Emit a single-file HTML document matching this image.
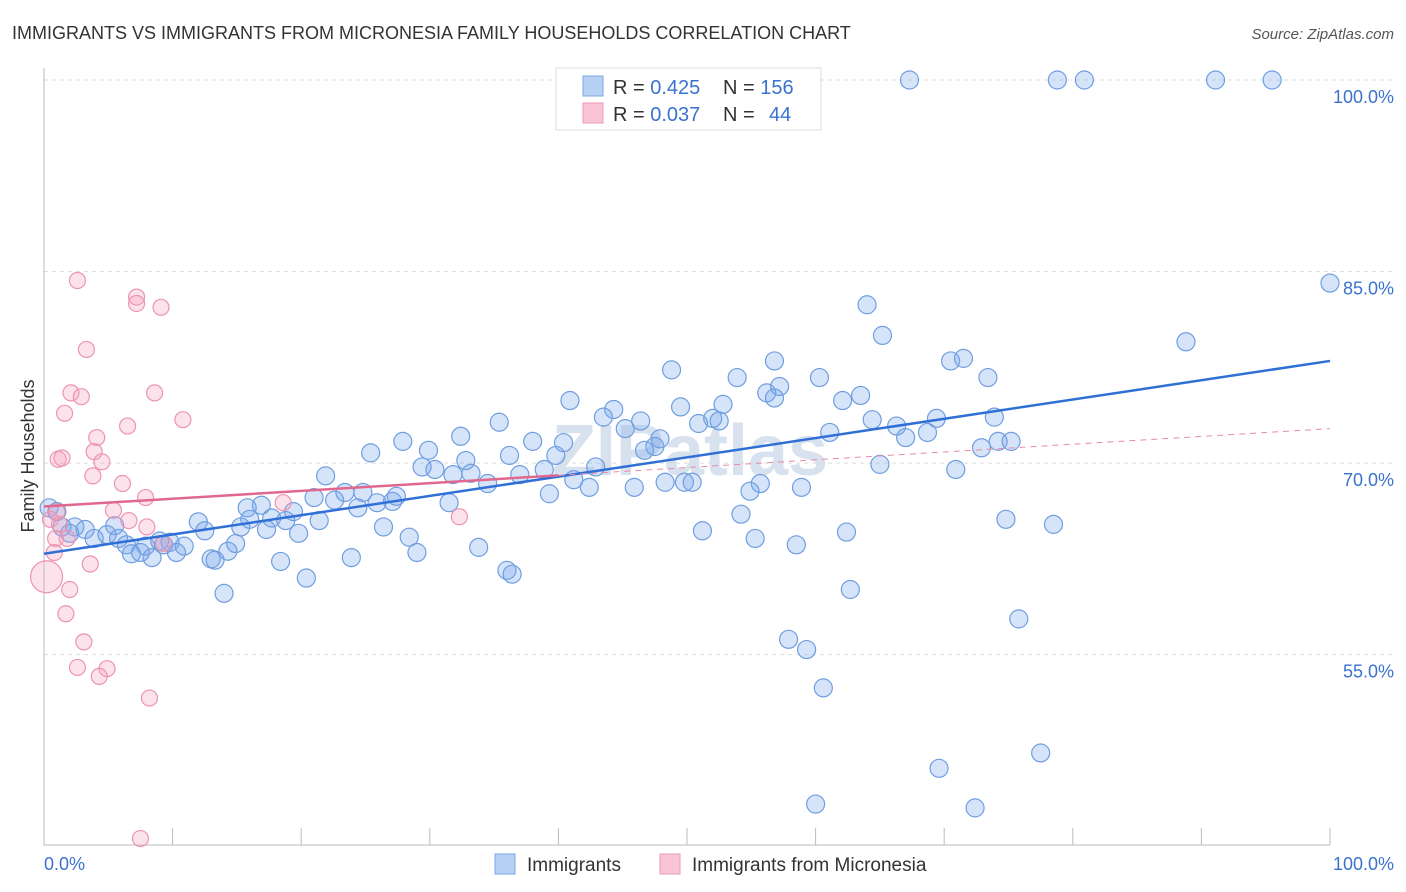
<!DOCTYPE html>
<html><head><meta charset="utf-8"><style>
body{margin:0;background:#fff;font-family:"Liberation Sans",sans-serif;}
#wrap{position:relative;width:1406px;height:892px;overflow:hidden;}
</style></head><body>
<div id="wrap">
<svg id="svg" width="1406" height="892" xmlns="http://www.w3.org/2000/svg">
<text x="12" y="39" font-size="18" fill="#333">IMMIGRANTS VS IMMIGRANTS FROM MICRONESIA FAMILY HOUSEHOLDS CORRELATION CHART</text>
<text x="1394" y="39" font-size="15" fill="#555" font-style="italic" text-anchor="end">Source: ZipAtlas.com</text>
<text x="690" y="475" font-size="72" fill="#d8e2ee" text-anchor="middle" font-weight="bold">ZIPatlas</text>
<text transform="translate(34,456) rotate(-90)" font-size="18" fill="#333" text-anchor="middle">Family Households</text>
<g id="grid"></g>
<g id="pts"></g>
<g id="trend"></g>
<g>
<rect x="556" y="68" width="265" height="62" fill="#fff" stroke="#ddd"/>
<rect x="583" y="76" width="20" height="20" fill="#b8d0f4" stroke="#7aa6e6"/>
<rect x="583" y="103" width="20" height="20" fill="#f9c4d4" stroke="#ec9ab6"/>
<text x="613" y="94" font-size="20" fill="#333">R = <tspan fill="#3a72d0">0.425</tspan><tspan x="723">N = </tspan><tspan fill="#3a72d0">156</tspan></text>
<text x="613" y="121" font-size="20" fill="#333">R = <tspan fill="#3a72d0">0.037</tspan><tspan x="723">N = </tspan><tspan fill="#3a72d0" x="769">44</tspan></text>
</g>
<g>
<rect x="495" y="854" width="20" height="20" fill="#b8d0f4" stroke="#7aa6e6"/>
<text x="527" y="871" font-size="19" fill="#333">Immigrants</text>
<rect x="660" y="854" width="20" height="20" fill="#f9c4d4" stroke="#ec9ab6"/>
<text x="692" y="871" font-size="19" fill="#333">Immigrants from Micronesia</text>
</g>
<text x="44" y="870" font-size="18" fill="#3a72d0">0.0%</text>
<text x="1394" y="870" font-size="18" fill="#3a72d0" text-anchor="end">100.0%</text>
</svg>
</div>
<script>
const yTicks=[100,85,70,55];
const yTickLabels=["100.0%","85.0%","70.0%","55.0%"];
const blueX=[67.3,78.8,80.9,91.1,95.5,100,64.0,65.2,88.8,56.8,70.5,71.5,48.8,53.9,60.3,73.4,57.2,56.2,56.8,63.5,62.1,40.9,44.3,43.5,52.8,49.5,46.4,35.4,52.0,50.9,52.5,64.4,69.4,73.9,45.2,66.3,67.0,61.1,68.7,27.9,32.4,38.0,40.4,47.9,72.9,74.2,75.2,25.4,29.9,32.8,36.2,39.8,46.7,47.5,29.4,30.4,31.8,33.2,34.5,37.0,38.9,42.9,65.0,70.9,21.9,41.2,42.4,45.9,48.3,49.8,50.4,55.7,54.9,58.9,39.3,31.5,16.9,21.0,22.6,23.4,24.8,25.9,27.1,27.4,24.4,19.4,15.8,16.0,17.7,18.8,21.4,54.2,74.8,78.5,12.0,15.3,17.3,19.8,26.4,28.4,51.2,62.4,0.4,1.0,1.4,2.4,5.5,12.5,3.9,4.9,5.8,6.4,7.5,7.9,9.0,9.8,10.9,9.3,14.9,14.3,55.3,58.5,6.8,8.4,10.3,13.0,13.3,29.0,33.8,18.4,23.9,36.0,36.4,20.4,14.0,62.7,75.8,57.9,59.3,60.6,77.5,69.6,60.0,72.4,3.2,2.0];
const blueY=[100,100,100,100,100,84.1,82.4,80.0,79.5,78.0,78.0,78.2,77.3,76.7,76.7,76.7,76.0,75.5,75.1,75.3,74.9,74.9,74.2,73.6,74.6,74.4,73.3,73.2,73.5,73.1,73.3,73.4,73.5,73.6,72.7,72.9,72.0,72.4,72.4,71.7,72.1,71.7,71.6,71.9,71.2,71.7,71.7,70.8,71.0,70.2,70.6,70.6,71.0,71.3,69.7,69.5,69.1,69.2,68.4,69.1,69.5,69.7,69.9,69.5,69.0,68.7,68.1,68.1,68.5,68.5,68.5,68.4,67.8,68.1,67.6,66.9,66.7,67.3,67.1,67.7,67.7,66.9,67.0,67.4,66.5,66.2,66.5,65.6,65.7,65.5,65.5,66.0,65.6,65.2,65.4,65.0,64.8,64.5,65.0,64.2,64.7,64.6,66.5,66.2,65.0,65.0,65.1,64.7,64.1,64.4,64.1,63.6,63.0,63.5,63.9,63.8,63.5,63.6,63.7,63.1,64.1,63.6,62.9,62.6,63.0,62.5,62.4,63.0,63.4,62.3,62.6,61.6,61.3,61.0,59.8,60.1,57.8,56.2,55.4,52.4,47.3,46.1,43.3,43.0,64.8,64.5];
const pinkX=[2.6,7.2,7.2,9.1,3.3,2.1,2.9,8.6,1.6,10.8,6.5,4.1,3.9,1.1,1.4,4.5,3.8,6.1,7.9,18.6,1.0,5.4,6.6,0.5,1.2,8.0,0.9,1.8,32.3,9.3,0.8,3.6,0.2,2.0,1.7,3.1,2.6,4.9,4.3,8.2,7.5];
const pinkY=[84.3,83.0,82.5,82.2,78.9,75.5,75.2,75.5,73.9,73.4,72.9,72.0,70.9,70.3,70.4,70.1,69.0,68.4,67.3,66.9,66.2,66.3,65.5,65.6,65.2,65.0,64.1,64.1,65.8,63.7,63.0,62.1,61.1,60.1,58.2,56.0,54.0,53.9,53.3,51.6,40.6];
const blueTrend=[62.9,78.0];
const pinkTrend=[66.6,72.7];
const pinkSolidEnd=40;

const NS="http://www.w3.org/2000/svg";
const X=v=>44+v*12.86;
const Y=v=>80+(100-v)*12.77;
function mk(tag,attrs,parent){const e=document.createElementNS(NS,tag);for(const k in attrs)e.setAttribute(k,attrs[k]);parent.appendChild(e);return e;}
const grid=document.getElementById('grid');
yTicks.forEach((t,i)=>{
  const l=mk('line',{x1:44,x2:1394,y1:Y(t),y2:Y(t),stroke:'#ddd','stroke-dasharray':'4,4'},grid);
  
  
  const tx=mk('text',{x:1394,y:Y(t)+23,'font-size':18,fill:'#3a72d0','text-anchor':'end'},grid);
  tx.textContent=yTickLabels[i];
  
  
});
const ax=mk('line',{x1:44,x2:1330,y1:845,y2:845,stroke:'#bbb'},grid);


const ay=mk('line',{x1:44,x2:44,y1:68,y2:845,stroke:'#bbb'},grid);


for(let i=0;i<=10;i++){
  const t=mk('line',{x1:X(i*10),x2:X(i*10),y1:828,y2:845,stroke:'#bbb'},grid);
  
  
}
const pts=document.getElementById('pts');
blueX.forEach((x,i)=>{
  const c=mk('circle',{cx:X(x),cy:Y(blueY[i]),r:9,fill:'rgba(120,165,235,0.3)',stroke:'#6f9ee0','stroke-width':1.2},pts);
  
  
});
pinkX.forEach((x,i)=>{
  const c=mk('circle',{cx:X(x),cy:Y(pinkY[i]),r:i==32?16:8,fill:'rgba(245,160,190,0.3)',stroke:'#ec94b2','stroke-width':1.2},pts);
  
  
});
const tr=document.getElementById('trend');
const bl=mk('line',{x1:X(0),y1:Y(blueTrend[0]),x2:X(100),y2:Y(blueTrend[1]),stroke:'#2f6fd6','stroke-width':2.5},tr);


const pv=x=>pinkTrend[0]+(pinkTrend[1]-pinkTrend[0])*x/100;
const ps=mk('line',{x1:X(0),y1:Y(pv(0)),x2:X(pinkSolidEnd),y2:Y(pv(pinkSolidEnd)),stroke:'#e0688f','stroke-width':2.5},tr);


const pd=mk('line',{x1:X(pinkSolidEnd),y1:Y(pv(pinkSolidEnd)),x2:X(100),y2:Y(pv(100)),stroke:'#e88aa8','stroke-width':1,'stroke-dasharray':'6,5'},tr);


</script>
</body></html>
